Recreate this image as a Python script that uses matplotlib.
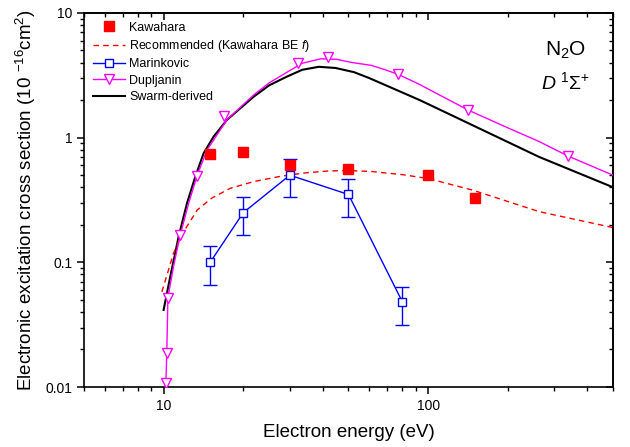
import numpy as np
import matplotlib.pyplot as plt
from matplotlib.ticker import LogLocator, FuncFormatter, NullFormatter

plt.rcParams['font.family'] = ['Liberation Sans', 'DejaVu Sans']
plt.rcParams['mathtext.fontset'] = 'custom'
plt.rcParams['mathtext.rm'] = 'Liberation Sans'
plt.rcParams['mathtext.it'] = 'Liberation Sans:italic'
plt.rcParams['mathtext.bf'] = 'Liberation Sans:bold'

# Kawahara data points
kaw_e = [15, 20, 30, 50, 100, 150]
kaw_q = [0.74, 0.77, 0.60, 0.56, 0.50, 0.33]

# recommended cross section (Kawahara BE f scaling)
rec_e = [9.85, 10.9, 11.7, 13.4, 15.2, 17.9, 21.9, 27.7, 33.9, 41.6, 50, 61,
         80, 100, 147, 263, 500]
rec_q = [0.058, 0.118, 0.166, 0.263, 0.327, 0.393, 0.444, 0.49, 0.52, 0.54,
         0.545, 0.535, 0.505, 0.47, 0.38, 0.255, 0.19]

# Marinkovic with error bars
mar_e = [15, 20, 30, 50, 80]
mar_q = [0.10, 0.25, 0.50, 0.35, 0.048]
mar_lo = [0.066, 0.166, 0.334, 0.23, 0.0315]
mar_hi = [0.134, 0.334, 0.67, 0.47, 0.0636]

# Dupljanin: measured points and the fitted curve
dup_e = [10.2, 10.28, 10.38, 11.56, 13.37, 16.9, 32.2, 41.8, 77, 142, 339]
dup_q = [0.0108, 0.0188, 0.052, 0.166, 0.493, 1.5, 4.0, 4.45, 3.25, 1.67, 0.71]
dup_fit_e = [10.2, 10.28, 10.38, 10.9, 11.56, 12.44, 13.37, 14.59, 17.4, 21.9,
             25, 29.3, 33.4, 39.3, 45, 51.7, 61, 69.2, 77, 92.5, 142, 200,
             263, 339, 500]
dup_fit_q = [0.0108, 0.0188, 0.052, 0.0925, 0.166, 0.298, 0.493, 0.796, 1.40,
             2.2, 2.74, 3.35, 3.95, 4.29, 4.25, 4.0, 3.8, 3.49, 3.22, 2.68,
             1.66, 1.2, 0.93, 0.71, 0.50]

# swarm-derived cross section
sw_e = [10.0, 10.6, 11.4, 12.26, 13.18, 14.17, 15.46, 17.37, 21.9, 25, 28.9,
        33.4, 38.6, 44.7, 52.5, 60, 93, 147, 263, 500]
sw_q = [0.0415, 0.077, 0.161, 0.298, 0.486, 0.75, 1.02, 1.39, 2.13, 2.62,
        3.05, 3.5, 3.7, 3.62, 3.35, 3.0, 2.0, 1.26, 0.70, 0.40]

fig = plt.figure(figsize=(6.3, 4.47), dpi=100)
ax = fig.add_axes([0.1333, 0.1342, 0.8397, 0.8368])

red = '#ff0000'
blue = '#0000ff'
mag = '#ff00ff'

sw_line, = ax.plot(sw_e, sw_q, color='black', lw=1.5, zorder=2)
rec_line, = ax.plot(rec_e, rec_q, color=red, lw=1.0, ls=(0, (4, 3)), zorder=2)

mar_err = [np.array(mar_q) - np.array(mar_lo), np.array(mar_hi) - np.array(mar_q)]
mar = ax.errorbar(mar_e, mar_q, yerr=mar_err, color=blue, lw=1.0, capsize=5,
                  elinewidth=1.0, capthick=1.0, marker='s', ms=5.5,
                  mfc='white', mec=blue, mew=1.0, zorder=3)

dup_line, = ax.plot(dup_fit_e, dup_fit_q, color=mag, lw=1.0, zorder=3)
dup_pts, = ax.plot(dup_e, dup_q, ls='none', marker='v', ms=7, mfc='white',
                   mec=mag, mew=1.0, zorder=4)

kaw, = ax.plot(kaw_e, kaw_q, ls='none', marker='s', ms=6.5, color=red, zorder=5)

ax.set_xscale('log')
ax.set_yscale('log')
ax.set_xlim(5, 500)
ax.set_ylim(0.01, 10)

ax.xaxis.set_major_locator(LogLocator(base=10))
ax.xaxis.set_minor_locator(LogLocator(base=10, subs=np.arange(2, 10)))
ax.yaxis.set_major_locator(LogLocator(base=10))
ax.yaxis.set_minor_locator(LogLocator(base=10, subs=np.arange(2, 10)))
ax.xaxis.set_major_formatter(FuncFormatter(lambda v, p: '%g' % v))
ax.yaxis.set_major_formatter(FuncFormatter(lambda v, p: '%g' % v))
ax.xaxis.set_minor_formatter(NullFormatter())
ax.yaxis.set_minor_formatter(NullFormatter())

for s in ax.spines.values():
    s.set_linewidth(1.2)
ax.tick_params(which='major', direction='out', length=5, width=1.1, labelsize=10)
ax.tick_params(which='minor', direction='out', length=3, width=1.0)

# inward ticks on the top and right sides
top = ax.secondary_xaxis('top')
top.xaxis.set_minor_locator(LogLocator(base=10, subs=np.arange(2, 10)))
top.tick_params(which='major', direction='in', length=5, width=1.1, labeltop=False)
top.tick_params(which='minor', direction='in', length=3, width=1.0)
top.xaxis.set_minor_formatter(NullFormatter())
right = ax.secondary_yaxis('right')
right.yaxis.set_minor_locator(LogLocator(base=10, subs=np.arange(2, 10)))
right.tick_params(which='major', direction='in', length=5, width=1.1, labelright=False)
right.tick_params(which='minor', direction='in', length=3, width=1.0)
right.yaxis.set_minor_formatter(NullFormatter())
for sa in (top, right):
    for s in sa.spines.values():
        s.set_linewidth(1.2)

ax.set_xlabel('Electron energy (eV)', fontsize=13.5, labelpad=8)
ax.set_ylabel('Electronic excitation cross section (10 $^{-16}$cm$^{2}$)',
              fontsize=13.5, labelpad=5)

ax.text(0.91, 0.90, 'N$_2$O', transform=ax.transAxes, fontsize=15,
        ha='center', va='center')
ax.text(0.91, 0.815, r'$D\ ^{1}\Sigma^{+}$', transform=ax.transAxes,
        fontsize=14, ha='center', va='center')

handles = [kaw, rec_line, mar.lines[0], (dup_line, dup_pts), sw_line]
labels = ['Kawahara', 'Recommended (Kawahara BE $f$)', 'Marinkovic',
          'Dupljanin', 'Swarm-derived']
ax.legend(handles, labels, loc='upper left', frameon=False, fontsize=9,
          handlelength=2.6, handletextpad=0.3, labelspacing=0.35,
          borderaxespad=0.3, bbox_to_anchor=(0.0, 1.0))

fig.savefig('out.png', dpi=100)
